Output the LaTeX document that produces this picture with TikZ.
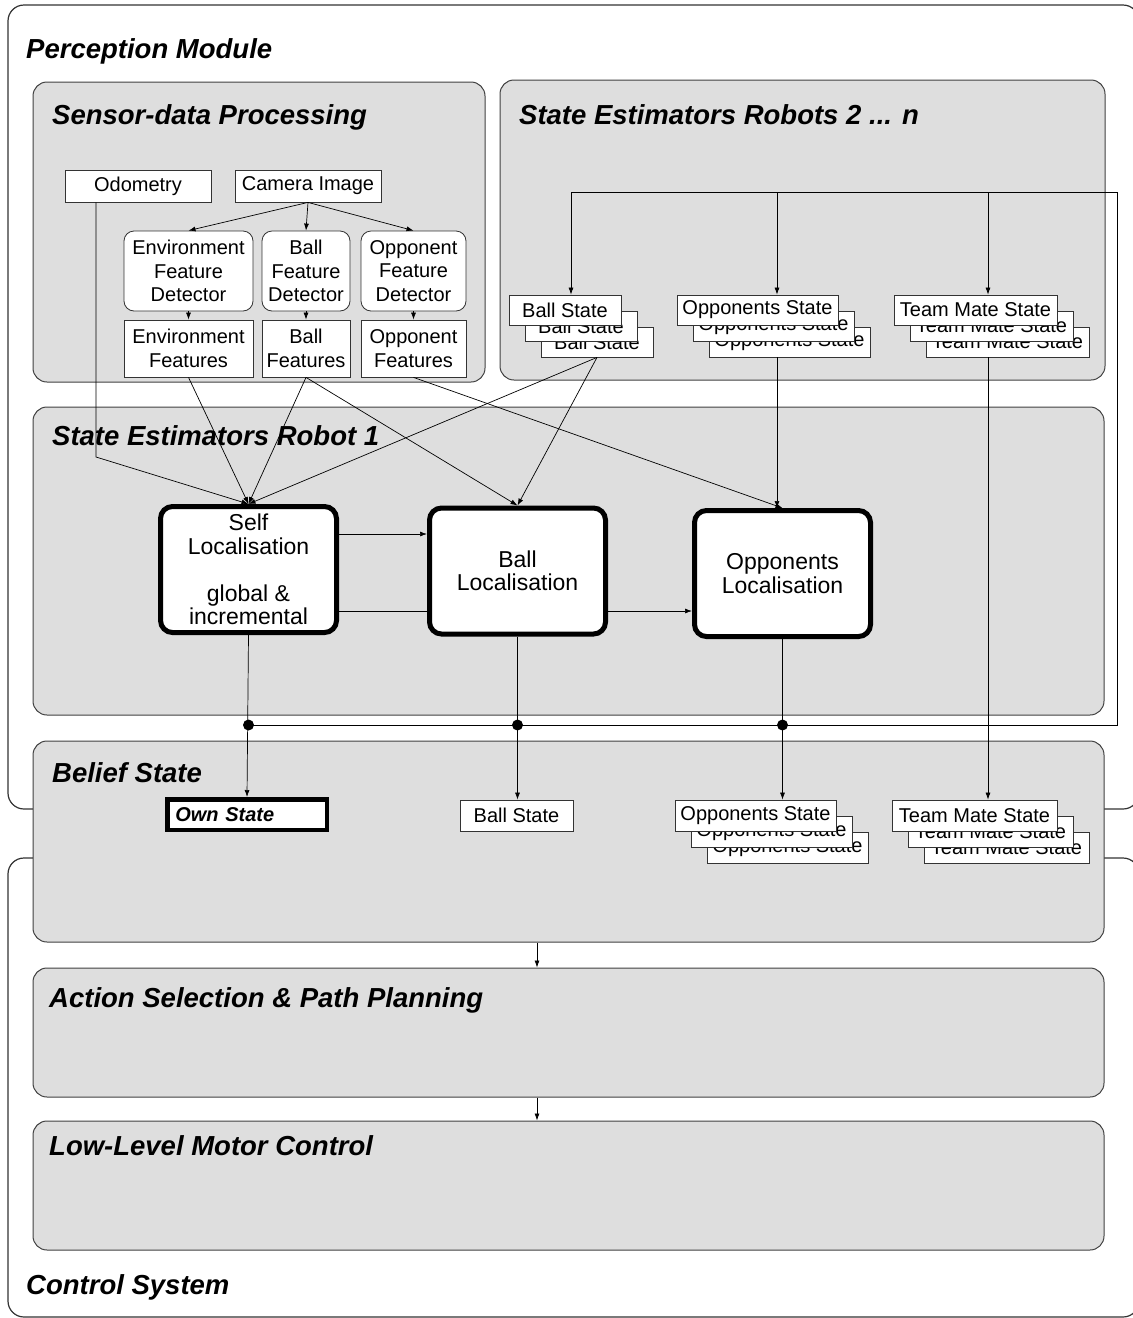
\documentclass[tikz,border=0pt]{standalone}
\usepackage{fontspec}
\setmainfont{Liberation Sans}
\usetikzlibrary{arrows.meta}
\tikzstyle{module} = [draw=black!80, line width=1.2pt, rounded corners=16pt, inner sep=0pt]
\tikzstyle{layer} = [draw=black!75, line width=1pt, fill=black!13, rounded corners=14pt, inner sep=0pt]
\tikzstyle{title} = [anchor=base west, inner sep=0pt, font=\fontsize{27.5}{30}\selectfont\bfseries\itshape]
\tikzstyle{box} = [draw=black!80, line width=0.8pt, fill=white, inner sep=0pt, align=center,
   font=\fontsize{20}{23.5}\selectfont]
\tikzstyle{detector} = [box, rounded corners=10pt, minimum height=80pt]
\tikzstyle{estimator} = [box, draw=black, line width=5pt, rounded corners=12pt,
   minimum width=176pt, minimum height=126pt, font=\fontsize{23}{23.5}\selectfont]
\tikzstyle{stateBox} = [box, minimum height=30pt]
\tikzstyle{flow} = [-{Latex[length=7pt,width=5pt]}, line width=0.7pt]
\tikzstyle{wire} = [line width=0.7pt]

\begin{document}
\begin{tikzpicture}[x=1pt, y=-1pt]
  \useasboundingbox (0,0) rectangle (1133,1318);

  % outer modules
  \node[module, minimum width=1131pt, minimum height=804pt] (perception) at (573.5,407) {};
  \node[module, minimum width=1131pt, minimum height=459pt] (control) at (573.5,1087.5) {};

  % layers
  \node[layer, minimum width=452pt, minimum height=300pt] (sensor) at (259,232) {};
  \node[layer, minimum width=605pt, minimum height=300pt] (robots) at (802.5,230) {};
  \node[layer, minimum width=1071pt, minimum height=308pt] (robot1) at (568.5,561) {};
  \node[layer, minimum width=1071pt, minimum height=201pt] (belief) at (568.5,841.5) {};
  \node[layer, minimum width=1071pt, minimum height=129pt] (action) at (568.5,1032.5) {};
  \node[layer, minimum width=1071pt, minimum height=129pt] (motor) at (568.5,1185.5) {};

  \node[title] at (26,58) {Perception Module};
  \node[title] at (52,124) {Sensor-data Processing};
  \node[title] at (519,124) {State Estimators Robots 2 ... n};
  \node[title] at (52,445) {State Estimators Robot 1};
  \node[title] at (52,782) {Belief State};
  \node[title] at (49,1007) {Action Selection \& Path Planning};
  \node[title] at (49,1155) {Low-Level Motor Control};
  \node[title] at (26,1294) {Control System};

  % sensor-data processing
  \node[box, minimum width=146pt, minimum height=32pt] (odo) at (138,186) {Odometry};
  \node[box, minimum width=146pt, minimum height=32pt] (cam) at (308,186) {Camera Image};
  \node[detector, minimum width=129pt] (envDet) at (188.5,271) {Environment\\Feature\\Detector};
  \node[detector, minimum width=88pt] (ballDet) at (306,271) {Ball\\Feature\\Detector};
  \node[detector, minimum width=105pt] (oppDet) at (413.5,271) {Opponent\\Feature\\Detector};
  \node[box, minimum width=129pt, minimum height=57pt] (envFeat) at (188.5,348.5) {Environment\\Features};
  \node[box, minimum width=88pt, minimum height=57pt] (ballFeat) at (306,348.5) {Ball\\Features};
  \node[box, minimum width=105pt, minimum height=57pt] (oppFeat) at (413.5,348.5) {Opponent\\Features};

  \draw[flow] (cam.south) -- (envDet.north);
  \draw[flow] (cam.south) -- (ballDet.north);
  \draw[flow] (cam.south) -- (oppDet.north);
  \draw[flow] (envDet.south) -- (envFeat.north);
  \draw[flow] (ballDet.south) -- (ballFeat.north);
  \draw[flow] (oppDet.south) -- (oppFeat.north);

  % state estimators robots 2 ... n
  \foreach \k/\d in {3/32,2/16,1/0} {
    \node[stateBox, minimum width=112pt] (ballR\k) at ({565+\d},{310+\d}) {Ball State};
    \node[stateBox, minimum width=161pt] (oppR\k) at ({757.5+\d},{310+\d}) {Opponents State};
    \node[stateBox, minimum width=163pt] (teamR\k) at ({975.5+\d},{310+\d}) {Team Mate State};
  }

  % state estimators robot 1
  \node[estimator] (selfLoc) at (248.5,569.5) {Self\\Localisation\\[23.5pt]global \&\\incremental};
  \node[estimator] (ballLoc) at (517.5,571) {Ball\\Localisation};
  \node[estimator] (oppLoc) at (782.5,573.5) {Opponents\\Localisation};

  % belief state
  \node[box, draw=black, line width=4.5pt, minimum height=30.5pt, text width=143.5pt, inner xsep=8pt,
    align=left, font=\fontsize{20}{23.5}\selectfont\bfseries\itshape] (ownB) at (247,814.5) {Own State};
  \node[stateBox, minimum width=113pt, minimum height=31pt] (ballB) at (516.5,815.5) {Ball State};
  \foreach \k/\d in {3/32,2/16,1/0} {
    \node[stateBox, minimum width=161pt, minimum height=31pt] (oppB\k) at ({755.5+\d},{815.5+\d}) {Opponents State};
    \node[stateBox, minimum width=165pt, minimum height=31pt] (teamB\k) at ({974.5+\d},{815.5+\d}) {Team Mate State};
  }

  % wires from the other robots
  \coordinate (ballLine) at (571,192);
  \coordinate (oppLine) at (777,192);
  \coordinate (teamLine) at (988,192);
  \coordinate (busTop) at (1117,192);
  \coordinate (busBot) at (1117,725);
  \coordinate (selfDot) at (selfLoc.south |- busBot);
  \coordinate (ballDot) at (ballLoc.south |- busBot);
  \coordinate (oppDot) at (oppLoc.south |- busBot);
  \coordinate (odoBend) at (96,457);

  \draw[wire] (ballLine) -- (busTop) -- (busBot) -- (selfDot);
  \draw[flow] (ballLine) -- (ballLine |- ballR1.north);
  \draw[flow] (oppLine) -- (oppLine |- oppR1.north);
  \draw[flow] (teamLine) -- (teamLine |- teamR1.north);

  % inputs of robot 1
  \draw[flow] ([xshift=-42pt]odo.south) -- (odoBend) -- (selfLoc.north);
  \draw[flow] (envFeat.south) -- (selfLoc.north);
  \draw[flow] (ballFeat.south) -- (selfLoc.north);
  \draw[flow] (ballFeat.south) -- (ballLoc.north);
  \draw[flow] (oppFeat.south) -- (oppLoc.north);
  \draw[flow] (ballR3.south) -- (selfLoc.north);
  \draw[flow] (ballR3.south) -- (ballLoc.north);
  \draw[flow] (oppLine |- oppR3.south) -- (oppLine |- oppLoc.north);

  \coordinate (selfLow) at ([yshift=-41.5pt]selfLoc.east);
  \draw[flow] ([yshift=35.5pt]selfLoc.east) -- (ballLoc.west |- 0,534);
  \draw[wire] (selfLow) -- (ballLoc.west |- selfLow);
  \draw[flow] (ballLoc.east |- selfLow) -- (oppLoc.west |- selfLow);

  % into the belief state
  \draw[flow] (selfLoc.south) -- (ownB.north);
  \draw[flow] (ballLoc.south) -- (ballLoc.south |- ballB.north);
  \draw[flow] (oppLoc.south) -- (oppLoc.south |- oppB1.north);
  \draw[flow] (teamLine |- teamR3.south) -- (teamLine |- teamB1.north);
  \fill (selfDot) circle (5.5pt);
  \fill (ballDot) circle (5.5pt);
  \fill (oppDot) circle (5.5pt);

  \draw[flow] ([xshift=-31.5pt]belief.south) -- ([xshift=-31.5pt]action.north);
  \draw[flow] ([xshift=-31.5pt]action.south) -- ([xshift=-31.5pt]motor.north);
\end{tikzpicture}
\end{document}
